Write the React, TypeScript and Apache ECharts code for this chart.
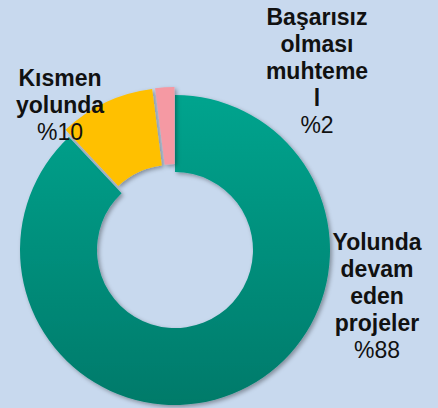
import React, { useEffect, useRef } from "react";
import * as echarts from "echarts";

const categories = ["Yolunda devam eden projeler", "Kısmen yolunda", "Başarısız olması muhtemel"];
const values = [88, 10, 2];
const labelNameLines = [
  ["Yolunda", "devam", "eden", "projeler"],
  ["Kısmen", "yolunda"],
  ["Başarısız", "olması", "muhteme", "l"],
];
const percentLabels = ["%88", "%10", "%2"];
const exploded = [false, true, true];

export default function App() {
  const ref = useRef<HTMLDivElement>(null);
  useEffect(() => {
    if (!ref.current) return;
    const chart = echarts.init(ref.current, null, { renderer: "svg" });
    const colors = [
      new echarts.graphic.LinearGradient(0, 0, 0, 1, [
        { offset: 0, color: "#00a48e" },
        { offset: 1, color: "#007a6a" },
      ]),
      "#ffc000",
      "#f599a3",
    ];
    const labelPos = [
      { x: 377, y: 296 },
      { x: 60, y: 105 },
      { x: 317, y: 71 },
    ];
    const font = "Liberation Sans, Arial, sans-serif";
    chart.setOption({
      animation: false,
      backgroundColor: "#c8d9ee",
      series: [
        {
          type: "pie",
          center: [175, 250],
          radius: [78, 155],
          startAngle: 90,
          clockwise: true,
          selectedMode: "multiple",
          selectedOffset: 8,
          emphasis: { disabled: true },
          label: { show: false },
          labelLine: { show: false },
          itemStyle: {
            shadowBlur: 4,
            shadowColor: "rgba(0,0,0,0.35)",
            shadowOffsetX: 2,
            shadowOffsetY: 2,
          },
          data: categories.map((name, i) => ({
            name,
            value: values[i],
            selected: exploded[i],
            itemStyle: { color: colors[i] },
          })),
        },
        {
          type: "pie",
          center: [175, 250],
          radius: [78, 155],
          startAngle: 90,
          clockwise: true,
          silent: true,
          avoidLabelOverlap: false,
          emphasis: { disabled: true },
          labelLine: { show: false },
          itemStyle: { color: "rgba(0,0,0,0)", borderWidth: 0 },
          label: {
            show: true,
            position: "inside",
            color: "#111",
            fontSize: 23,
            fontFamily: font,
            lineHeight: 27,
            align: "center",
            verticalAlign: "middle",
            rich: {
              b: { fontSize: 23, fontWeight: "bold", color: "#111", lineHeight: 27, fontFamily: font },
              p: { fontSize: 23, fontWeight: "normal", color: "#111", lineHeight: 27, fontFamily: font },
            },
          },
          labelLayout: (params: any) => {
            const p = labelPos[params.dataIndex];
            return { x: p.x, y: p.y, align: "center", verticalAlign: "middle", hideOverlap: false };
          },
          data: categories.map((name, i) => ({
            name,
            value: values[i],
            label: {
              formatter:
                labelNameLines[i].map((l) => `{b|${l}}`).join("\n") + `\n{p|${percentLabels[i]}}`,
            },
          })),
        },
      ],
    });
    return () => chart.dispose();
  }, []);
  return (
    <div
      ref={ref}
      style={{ position: "fixed", left: 0, top: 0, width: 438, height: 408 }}
    />
  );
}
